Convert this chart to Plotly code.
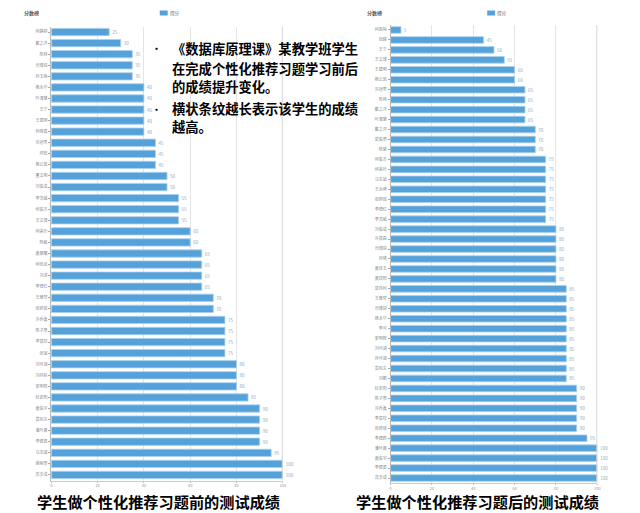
import plotly.graph_objects as go

# ---------------- data ----------------
names_before = ["何静婷", "戴之洋", "陈林", "司博锐", "孙玉梅", "杨永华", "叶淑慧", "王宁",
                "王建明", "孙晓霞", "许冠男", "邓松", "杨云凯", "董文明", "刘俊成", "李浩威",
                "何俊杰", "王文博", "何美玲", "陈敏", "黄晨曦", "何佳武", "刘涛", "李德红",
                "王雅琴", "张婷瑶", "许乔鑫", "陈子豪", "李嘉欣", "张斌", "刘可涵", "刘伟栋",
                "罗明辉", "杜若阳", "黄俊宇", "曾宪东", "潘叶晨", "李健勇", "马志斌", "谢家豪",
                "高步成"]
scores_before = [25, 30, 35, 35, 35, 40, 40, 40, 40, 40, 45, 45, 45, 50, 50, 55, 55, 55,
                 60, 60, 65, 65, 65, 65, 70, 70, 75, 75, 75, 75, 80, 80, 80, 85, 90, 90,
                 90, 90, 95, 100, 100]

names_after = ["何亚梅", "张峰", "王宁", "王文博", "王建明", "杨云凯", "许冠男", "陈林",
               "戴之洋", "叶淑慧", "戴之洋", "夏俊豪", "陈琳", "何俊杰", "何美玲", "马志斌",
               "王永坤", "张婷瑶", "李德红", "李浩威", "刘俊成", "许嘉森", "司博锐", "孙晓",
               "黄佳玉", "黄瑞阳", "夏伟利", "王雅琴", "司博锐", "杨永华", "李可", "罗明辉",
               "刘可涵", "孙可涵", "曾宪东", "刘鹏", "杜若阳", "陈子豪", "许乔鑫", "李嘉欣",
               "张婷瑶", "李德群", "潘叶晨", "黄俊宇", "李健勇", "高步成"]
scores_after = [5, 45, 50, 55, 60, 60, 65, 65, 65, 65, 70, 70, 70, 75, 75, 75, 75, 75,
                75, 75, 80, 80, 80, 80, 80, 80, 85, 85, 85, 85, 85, 85, 85, 85, 85, 85,
                90, 90, 90, 90, 90, 95, 100, 100, 100, 100]

x_ticks = [0, 20, 40, 60, 80, 100]
chart_title = "分数榜"
legend_name = "得分"
caption_before = "学生做个性化推荐习题前的测试成绩"
caption_after = "学生做个性化推荐习题后的测试成绩"
note_lines = ["《数据库原理课》某教学班学生", "在完成个性化推荐习题学习前后",
              "的成绩提升变化。", "横状条纹越长表示该学生的成绩", "越高。"]

ids_before = [f"b{i}" for i in range(len(names_before))]
ids_after = [f"a{i}" for i in range(len(names_after))]

W, H = 640, 513
BAR = "#55A2DA"
EDGE = "#A9D0EE"
GRID = "#E4E4E4"
LBL = "#8AA9C6"
FONT = "Noto Sans CJK SC"

fig = go.Figure()

fig.add_trace(go.Bar(
    x=scores_before, y=ids_before, orientation="h",
    marker=dict(color=BAR, line=dict(color=EDGE, width=0.8)),
    text=[str(v) for v in scores_before], textposition="outside",
    textfont=dict(size=4.5, color=LBL, family=FONT), cliponaxis=False,
    xaxis="x", yaxis="y", showlegend=False, name=legend_name))

fig.add_trace(go.Bar(
    x=scores_after, y=ids_after, orientation="h",
    marker=dict(color=BAR, line=dict(color=EDGE, width=0.8)),
    text=[str(v) for v in scores_after], textposition="outside",
    textfont=dict(size=4.5, color=LBL, family=FONT), cliponaxis=False,
    xaxis="x2", yaxis="y2", showlegend=False, name=legend_name))

def px_x(p):
    return p / W

def px_y(p):
    return 1 - p / H

xcommon = dict(range=[0, 100], tickvals=x_ticks, showgrid=True, gridcolor=GRID, gridwidth=1,
               zeroline=False, tickfont=dict(size=4, color="#999999", family=FONT),
               ticks="outside", ticklen=1, tickcolor="#BBBBBB", showline=True,
               linecolor="#CCCCCC", linewidth=1, fixedrange=True)
ycommon = dict(autorange="reversed", showgrid=False, ticks="outside", ticklen=2,
               tickcolor="#AAAAAA", showline=True, linecolor="#BBBBBB", linewidth=1,
               tickfont=dict(size=4, color="#8A8A8A", family=FONT), fixedrange=True)

fig.update_layout(
    width=W, height=H, margin=dict(l=0, r=0, t=0, b=0),
    paper_bgcolor="white", plot_bgcolor="white",
    bargap=0.34,
    xaxis=dict(domain=[px_x(50.7), px_x(284)], anchor="y", **xcommon),
    yaxis=dict(domain=[px_y(480.5), px_y(26.5)], anchor="x",
               tickvals=ids_before, ticktext=names_before, **ycommon),
    xaxis2=dict(domain=[px_x(392.7), px_x(601)], anchor="y2", **xcommon),
    yaxis2=dict(domain=[px_y(483), px_y(25)], anchor="x2",
                tickvals=ids_after, ticktext=names_after, **ycommon),
    font=dict(family=FONT),
)

shapes = []
ann = []

for xa, ya in (("x", "y"), ("x2", "y2")):
    shapes.append(dict(type="line", xref=xa, yref=f"{ya} domain", x0=100, x1=100, y0=0, y1=1,
                       line=dict(color="#D6D6D6", width=2)))

def add_text(text, x, y, size, color, xanchor="center", bold=False):
    ann.append(dict(text=f"<b>{text}</b>" if bold else text, x=px_x(x), y=px_y(y),
                    xref="paper", yref="paper", xanchor=xanchor, yanchor="middle",
                    showarrow=False, borderpad=0,
                    font=dict(size=size, color=color, family=FONT)))

# titles and legends
for tx, lx, ty in ((31, 160, 13), (376, 490, 13)):
    add_text(chart_title, tx, ty, 5, "#555555", bold=True)
    shapes.append(dict(type="rect", xref="paper", yref="paper",
                       x0=px_x(lx), x1=px_x(lx + 8), y0=px_y(ty + 2.5), y1=px_y(ty - 2.5),
                       fillcolor=BAR, line=dict(width=0)))
    add_text(legend_name, lx + 9, ty, 4.5, "#666666", xanchor="left")

# note text
for line, yy in zip(note_lines, [48, 68, 87, 108, 127]):
    add_text(line, 171, yy, 13.3, "black", xanchor="left", bold=True)
for yy in (48, 109):
    add_text("•", 157, yy, 9, "black", bold=True)

# captions
add_text(caption_before, 159, 501, 15.2, "black", bold=True)
add_text(caption_after, 480, 501, 15.2, "black", bold=True)

fig.update_layout(shapes=shapes, annotations=ann)
fig.write_html("out.html")
